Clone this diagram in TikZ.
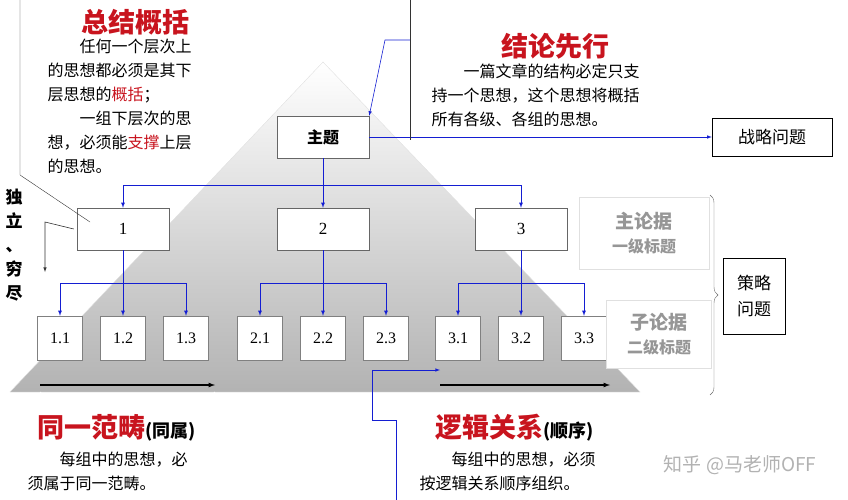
\documentclass[tikz,border=0pt]{standalone}
\usepackage{fontspec}
\setmainfont{Noto Sans CJK SC}
\newfontfamily\numfont{Liberation Serif}
\usetikzlibrary{positioning,decorations.pathreplacing,shadings}
\definecolor{mred}{RGB}{200,20,30}
\definecolor{mblue}{RGB}{20,30,210}
\definecolor{mgray}{RGB}{150,150,150}

\begin{document}
\begin{tikzpicture}[x=1pt,y=-1pt,
    topbox/.style={rectangle, draw=black!60, fill=white, minimum width=92pt, minimum height=42pt, font=\fontsize{16}{18}\selectfont\bfseries},
    mainbox/.style={rectangle, draw=black!60, fill=white, minimum width=92pt, minimum height=42pt, font=\numfont\fontsize{17}{18}\selectfont},
    subbox/.style={rectangle, draw=black!50, fill=white, minimum width=45pt, minimum height=44pt, font=\numfont\fontsize{16}{18}\selectfont},
    sidebox/.style={rectangle, draw=black, fill=white, font=\fontsize{17}{20}\selectfont, align=center},
    title/.style={text=mred, font=\fontsize{27}{30}\selectfont\bfseries, anchor=west},
    body/.style={font=\fontsize{16}{24}\selectfont, align=left, anchor=north west},
    graylab/.style={text=mgray, font=\fontsize{19}{30}\selectfont\bfseries, align=center, draw=black!12, fill=white},
    arrow_tree/.style={-latex, mblue, thick},
    arrow_note/.style={-latex, black!80, thin},
    ]
\useasboundingbox (0,0) rectangle (848,500);

% pyramid
\shade[top color=white, middle color=black!4, bottom color=black!30] (323,62) -- (640,392) -- (10,392) -- cycle;
\draw[black!12] (323,62) -- (640,392) -- (10,392) -- cycle;

% nodes
\node[topbox] (theme) at (323,137) {主题};
\foreach \i/\x in {1/123,2/323,3/521}{
  \node[mainbox] (m\i) at (\x,229) {\i};
  \foreach \j/\dx in {1/-63,2/0,3/63}
    \node[subbox] (s\i\j) at (\x+\dx,338) {\i.\j};
}
\node[sidebox, minimum width=120pt, minimum height=38pt] (strategy) at (772,137) {战略问题};
\node[sidebox, minimum width=62pt, minimum height=76pt] (tactic) at (754,296) {策略\\[6pt]问题};
\node[graylab, minimum width=130pt, minimum height=72pt] (lab1) at (644,233) {主论据\\[-6pt]{\fontsize{16}{16}\selectfont 一级标题}};
\node[graylab, minimum width=105pt, minimum height=68pt] (lab2) at (659,334) {子论据\\[-6pt]{\fontsize{16}{16}\selectfont 二级标题}};

% tree connectors
\draw[arrow_tree] (theme) -- (m2);
\draw[arrow_tree] (theme.south) ++(0,27) coordinate (c0) -| (m1.north);
\draw[arrow_tree] (c0) -| (m3.north);
\foreach \i in {1,2,3}{
  \draw[arrow_tree] (m\i) -- (s\i2);
  \draw[arrow_tree] (m\i.south) ++(0,33) coordinate (c\i) -| (s\i1.north);
  \draw[arrow_tree] (c\i) -| (s\i3.north);
}
\draw[arrow_tree, semithick] (theme.east) -- (strategy.west);

% brace
\draw[decorate, decoration={brace, amplitude=8pt}, black!60, thin] (710,195) -- (710,395);

% notes
\coordinate (top1) at (410,0);
\coordinate (top2) at (20,0);
\draw[black!80] (top1) -- (410,140);
\draw[arrow_note, mblue, semithick] (410,40) -- (385,40) -- (theme.north east);
\draw[black!80] (top2) -- (20,175) -- (90,222);
\draw[arrow_note, semithick] (m1.west) ++(-3,0) -- (45,222) -- (45,272);
\draw[-latex, very thick] (40,385) -- (215,385);
\draw[-latex, very thick] (440,385) -- (610,385);
\draw[decorate, decoration={brace, mirror, amplitude=4pt}, white, thick] (40,392) -- (215,392);
\coordinate (bot) at (396,500);
\draw[arrow_note, mblue, semithick] (bot) -- (396,420) -- (372,420) -- (372,370) -- (440,370);

% texts
\node[title] (t1) at (78,22) {总结概括};
\node[body] (b1) at (44,36) {\hspace{2em}任何一个层次上\\的思想都必须是其下\\层思想的{\color{mred}概括}；\\\hspace{2em}一组下层次的思\\想，必须能{\color{mred}支撑}上层\\的思想。};
\node[title] (t2) at (498,46) {结论先行};
\node[body] (b2) at (428,60) {\hspace{2em}一篇文章的结构必定只支\\持一个思想，这个思想将概括\\所有各级、各组的思想。};
\node[font=\fontsize{17}{24}\selectfont\bfseries, align=center] (side) at (14,245) {独\\立\\、\\穷\\尽};
\node[title] (t3) at (34,428) {同一范畴{\color{black}\fontsize{18}{18}\selectfont(同属)}};
\node[body] (b3) at (24,448) {\hspace{2em}每组中的思想，必\\须属于同一范畴。};
\node[title] (t4) at (432,428) {逻辑关系{\color{black}\fontsize{18}{18}\selectfont(顺序)}};
\node[body] (b4) at (416,448) {\hspace{2em}每组中的思想，必须\\按逻辑关系顺序组织。};
\node[text=black!30, font=\fontsize{19}{20}\selectfont] (wm) at (740,465) {知乎 @马老师OFF};
\end{tikzpicture}
\end{document}
